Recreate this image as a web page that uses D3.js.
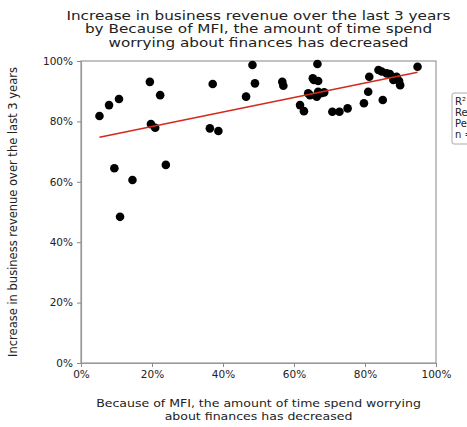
<!DOCTYPE html>
<html><head><meta charset="utf-8">
<script src="https://cdn.jsdelivr.net/npm/d3@7"></script>
<style>body{margin:0;background:#fff;overflow:hidden}svg{display:block}text{font-family:"DejaVu Sans",sans-serif;fill:#222}</style>
</head><body><svg id="c" width="467" height="427"></svg>
<script>
const titleLines = ["Increase in business revenue over the last 3 years","by Because of MFI, the amount of time spend","worrying about finances has decreased"];
const xLabelLines = ["Because of MFI, the amount of time spend worrying","about finances has decreased"];
const yLabel = "Increase in business revenue over the last 3 years";
const tickValues = [0,0.2,0.4,0.6,0.8,1.0];
const xValues = [0.052,0.079,0.107,0.194,0.223,0.197,0.209,0.371,0.363,0.387,0.483,0.490,0.465,0.094,0.145,0.239,0.110,
  0.567,0.570,0.666,0.653,0.656,0.668,0.640,0.645,0.668,0.676,0.685,0.664,0.617,0.628,0.708,0.728,0.751,0.797,0.850,0.809,0.812,0.838,0.847,0.861,0.870,0.880,0.896,0.899,0.889,0.948];
const yValues = [0.818,0.854,0.874,0.931,0.887,0.791,0.779,0.924,0.777,0.768,0.987,0.926,0.882,0.645,0.606,0.656,0.484,
  0.931,0.918,0.990,0.943,0.937,0.934,0.893,0.887,0.898,0.893,0.896,0.882,0.854,0.834,0.832,0.832,0.843,0.860,0.871,0.898,0.948,0.970,0.965,0.959,0.957,0.937,0.934,0.920,0.948,0.981];
const statLabels = ["R\u00b2 = 0.42","Regression","Pearson r","n = 47"];

const svg = d3.select("#c");
const x = d3.scaleLinear().domain([0,1]).range([81,436]);
const y = d3.scaleLinear().domain([0,1]).range([363,61]);
const fmt = d3.format(".0%");

svg.append("rect").attr("x",81).attr("y",61).attr("width",355).attr("height",302)
  .attr("fill","none").attr("stroke","#999").attr("stroke-width",1.2);

const xa = svg.append("g").attr("transform","translate(0,363)")
  .call(d3.axisBottom(x).tickValues(tickValues).tickFormat(fmt).tickSize(4).tickPadding(4).tickSizeOuter(0));
const ya = svg.append("g").attr("transform","translate(81,0)")
  .call(d3.axisLeft(y).tickValues(tickValues).tickFormat(fmt).tickSize(4).tickPadding(4).tickSizeOuter(0));
[xa,ya].forEach(g=>{
  g.select(".domain").attr("stroke","#999").attr("stroke-width",1.2);
  g.selectAll(".tick line").attr("stroke","#888");
  g.selectAll("text").attr("font-size",10.5).attr("fill","#444").style("font-family","DejaVu Sans, sans-serif");
});

const pts = xValues.map((v,i)=>[v,yValues[i]]);
svg.append("g").selectAll("circle").data(pts).join("circle")
  .attr("cx",d=>x(d[0])).attr("cy",d=>y(d[1])).attr("r",4.3).attr("fill","#000");

const mx = d3.mean(xValues), my = d3.mean(yValues);
let sxy=0,sxx=0; pts.forEach(([a,b])=>{sxy+=(a-mx)*(b-my);sxx+=(a-mx)**2;});
const slope = sxy/sxx, icpt = my - slope*mx;
const [x0,x1] = d3.extent(xValues);
svg.append("line").attr("x1",x(x0)).attr("y1",y(icpt+slope*x0)).attr("x2",x(x1)).attr("y2",y(icpt+slope*x1))
  .attr("stroke","#d42a1e").attr("stroke-width",1.6);

svg.append("text").attr("text-anchor","middle").attr("font-size",12.3)
  .attr("transform","translate(258.5,0) scale(1.24,1)")
  .selectAll("tspan").data(titleLines).join("tspan").attr("x",0).attr("y",(d,i)=>20+i*13.5).text(d=>d);
svg.append("text").attr("text-anchor","middle").attr("font-size",11)
  .attr("transform","translate(258.5,0) scale(1.14,1)").attr("fill","#333")
  .selectAll("tspan").data(xLabelLines).join("tspan").attr("x",0).attr("y",(d,i)=>407+i*13).text(d=>d);
svg.append("text").attr("text-anchor","middle").attr("font-size",11.5).attr("fill","#333")
  .attr("transform","translate(17,212) rotate(-90)").text(yLabel);

svg.append("rect").attr("x",452).attr("y",93).attr("width",60).attr("height",51)
  .attr("fill","#fff").attr("stroke","#aaa").attr("stroke-width",1).attr("rx",2);
svg.append("text").attr("font-size",10).attr("fill","#444")
  .selectAll("tspan").data(statLabels).join("tspan").attr("x",455).attr("y",(d,i)=>105+i*11).text(d=>d);
</script></body></html>
